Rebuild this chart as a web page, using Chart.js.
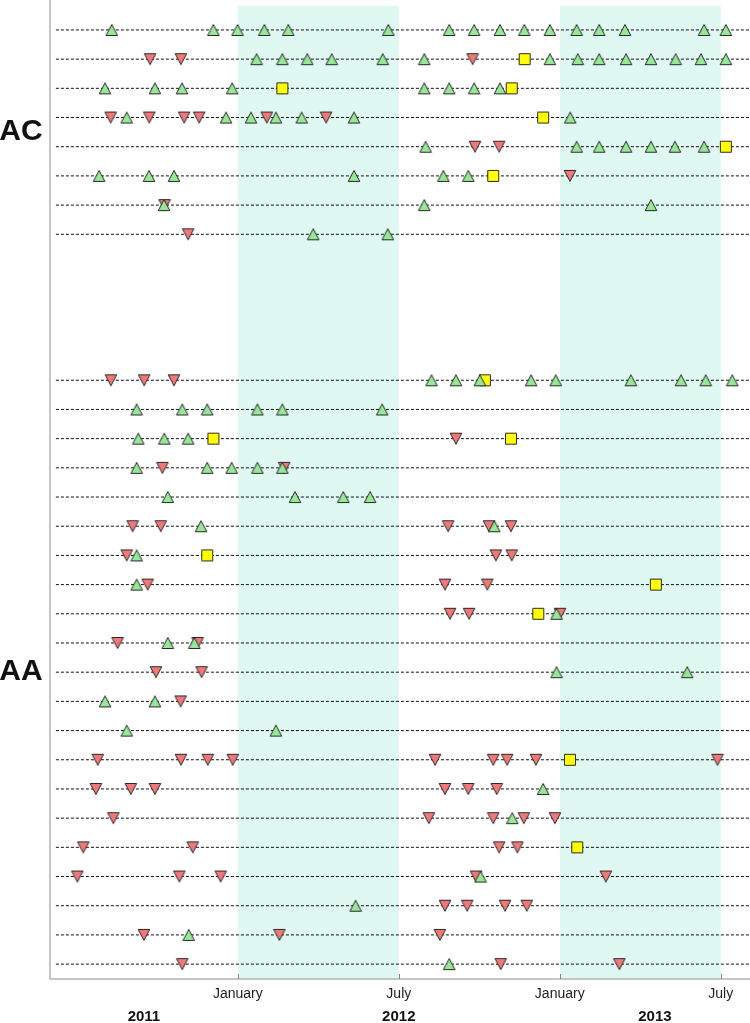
<!DOCTYPE html>
<html>
<head>
<meta charset="utf-8">
<script src="https://cdn.jsdelivr.net/npm/chart.js@4.4.1/dist/chart.umd.min.js"></script>
<style>
  body { margin: 0; background: #fff; }
</style>
</head>
<body>
<canvas id="chart" width="750" height="1023"></canvas>
<script>
// x values are months counted from January 2011 (12 = Jan 2012, 24 = Jan 2013)
const groups = ['AC', 'AA'];
const tickMonths = [12, 18, 24, 30];
const tickLabels = ['January', 'July', 'January', 'July'];
const years = [2011, 2012, 2013];
const shadedPeriods = [[12, 18], [24, 30]];

// one list per row: green up triangles, red down triangles, yellow squares
const acUp = [
  [7.30, 11.09, 11.99, 12.99, 13.88, 17.61, 19.88, 20.81, 21.77, 22.68, 23.63, 24.63, 25.47, 26.43, 29.38, 30.19],
  [12.70, 13.66, 14.59, 15.50, 17.40, 18.95, 23.63, 24.67, 25.47, 26.47, 27.40, 28.32, 29.26, 30.19],
  [7.05, 8.91, 9.92, 11.79, 18.95, 19.88, 20.81, 21.77],
  [7.86, 11.56, 12.49, 13.42, 14.38, 16.33, 24.39],
  [19.00, 24.63, 25.47, 26.47, 27.40, 28.29, 29.38],
  [6.83, 8.69, 9.62, 16.33, 19.66, 20.59],
  [9.25, 18.95, 27.40],
  [14.81, 17.59]
];
const acDown = [
  [],
  [8.73, 9.88, 20.75],
  [],
  [7.26, 8.70, 10.00, 10.56, 13.08, 15.29],
  [20.84, 21.74],
  [24.38],
  [9.27],
  [10.15]
];
const acFlag = [
  [],
  [22.69],
  [13.66, 22.21],
  [23.38],
  [30.19],
  [21.52],
  [],
  []
];

const aaUp = [
  [19.22, 20.13, 21.02, 22.93, 23.85, 26.65, 28.52, 29.44, 30.43],
  [8.23, 9.93, 10.86, 12.73, 13.66, 17.38],
  [8.29, 9.26, 10.15],
  [8.23, 10.86, 11.77, 12.73, 13.66],
  [9.39, 14.13, 15.93, 16.93],
  [10.63, 21.56],
  [8.23],
  [8.23],
  [23.88],
  [9.39, 10.38],
  [23.88, 28.75],
  [7.05, 8.91],
  [7.86, 13.42],
  [],
  [23.38],
  [22.23],
  [],
  [21.05],
  [16.39],
  [10.17],
  [19.88]
];
const aaDown = [
  [7.27, 8.51, 9.62],
  [],
  [20.13],
  [9.19, 13.73],
  [],
  [8.08, 9.13, 19.84, 21.36, 22.18],
  [7.86, 21.62, 22.21],
  [8.64, 19.72, 21.30],
  [19.91, 20.62, 24.01],
  [7.52, 10.50],
  [8.95, 10.65],
  [9.87],
  [],
  [6.78, 9.88, 10.88, 11.81, 19.35, 21.52, 22.04, 23.11, 29.88],
  [6.71, 8.01, 8.91, 19.72, 20.59, 21.65],
  [7.36, 19.12, 21.52, 22.66, 23.82],
  [6.24, 10.32, 21.74, 22.42],
  [6.02, 9.82, 11.36, 20.88, 25.72],
  [19.72, 20.55, 21.96, 22.77],
  [8.50, 13.55, 19.53],
  [9.93, 21.80, 26.22]
];
const aaFlag = [
  [21.21], [], [11.09, 22.18], [], [], [], [10.86], [27.58], [23.20], [], [],
  [], [], [24.38], [], [], [24.65], [], [], [], []
];

const aaStart = acUp.length + 4;   // empty rows between the two groups
const lastRow = aaStart + aaUp.length - 1;
const FONT = "'Liberation Sans', Arial, sans-serif";

function points(acRows, aaRows) {
  const pts = [];
  acRows.forEach((list, i) => list.forEach(m => pts.push({x: m, y: i})));
  aaRows.forEach((list, i) => list.forEach(m => pts.push({x: m, y: aaStart + i})));
  return pts;
}

function marker(kind) {
  const c = document.createElement('canvas');
  c.width = 14; c.height = 14;
  const g = c.getContext('2d');
  g.lineWidth = 1;
  g.strokeStyle = '#2a2a2a';
  g.beginPath();
  if (kind === 'up') {
    g.moveTo(7, 1.5); g.lineTo(12.8, 12.5); g.lineTo(1.2, 12.5);
    g.fillStyle = '#96e796';
  } else if (kind === 'down') {
    g.moveTo(1.2, 1.5); g.lineTo(12.8, 1.5); g.lineTo(7, 12.5);
    g.fillStyle = '#f07878';
  } else {
    g.rect(1.5, 1.5, 11, 11);
    g.fillStyle = '#ffff00';
  }
  g.closePath();
  g.fill();
  g.stroke();
  return c;
}

// dashed guide line for every used row
const rowLines = [];
for (let r = 0; r <= lastRow; r++) {
  if (r >= acUp.length && r < aaStart) continue;
  rowLines.push({
    type: 'line',
    data: [{x: 5.22, y: r}, {x: 31.09, y: r}],
    borderColor: '#111',
    borderWidth: 1,
    borderDash: [3, 2],
    pointRadius: 0,
    order: 10
  });
}

const decor = {
  id: 'decor',
  beforeDatasetsDraw(chart) {
    const {ctx, chartArea: a, scales: {x}} = chart;
    ctx.save();
    ctx.fillStyle = '#e0f8f2';
    shadedPeriods.forEach(([s, e]) => {
      const x0 = x.getPixelForValue(s), x1 = x.getPixelForValue(e);
      ctx.fillRect(x0, a.top, x1 - x0, a.bottom - a.top);
    });
    // axes
    ctx.strokeStyle = '#b4b4b4';
    ctx.lineWidth = 1.5;
    ctx.beginPath();
    ctx.moveTo(a.left, 0);
    ctx.lineTo(a.left, a.bottom);
    ctx.lineTo(a.right, a.bottom);
    ctx.stroke();
    ctx.lineWidth = 1;
    ctx.strokeStyle = '#888';
    tickMonths.forEach(m => {
      const px = Math.round(x.getPixelForValue(m)) + 0.5;
      ctx.beginPath();
      ctx.moveTo(px, a.bottom);
      ctx.lineTo(px, a.bottom - 5);
      ctx.stroke();
    });
    ctx.restore();
  },
  afterDraw(chart) {
    const {ctx, scales: {x, y}} = chart;
    ctx.save();
    ctx.fillStyle = '#111';
    ctx.textAlign = 'center';
    ctx.textBaseline = 'middle';
    ctx.font = 'bold 15px ' + FONT;
    years.forEach(yr => {
      const s = Math.max(x.min, (yr - 2011) * 12);
      const e = Math.min(x.max, (yr - 2010) * 12);
      ctx.fillText(String(yr), (x.getPixelForValue(s) + x.getPixelForValue(e)) / 2, 1017);
    });
    ctx.font = 'bold 30px ' + FONT;
    ctx.fillText(groups[0], 21, y.getPixelForValue((acUp.length - 1) / 2));
    ctx.fillText(groups[1], 21, y.getPixelForValue((aaStart + lastRow) / 2));
    ctx.restore();
  }
};

new Chart(document.getElementById('chart').getContext('2d'), {
  type: 'scatter',
  data: {
    datasets: [
      { label: 'up', data: points(acUp, aaUp), pointStyle: marker('up'), order: 0 },
      { label: 'down', data: points(acDown, aaDown), pointStyle: marker('down'), order: 1 },
      { label: 'flag', data: points(acFlag, aaFlag), pointStyle: marker('flag'), order: 2 }
    ].concat(rowLines)
  },
  options: {
    responsive: false,
    animation: false,
    layout: { autoPadding: false, padding: { left: 50, right: 0, top: 6, bottom: 0 } },
    plugins: { legend: { display: false }, tooltip: { enabled: false } },
    scales: {
      x: {
        type: 'linear',
        min: 5,
        max: 31.09,
        afterBuildTicks: s => { s.ticks = tickMonths.map(v => ({value: v})); },
        afterFit: s => { s.height = 44; },
        ticks: {
          callback: (v, i) => tickLabels[i],
          font: { size: 14, family: FONT },
          color: '#222',
          padding: 7,
          maxRotation: 0,
          autoSkip: false
        },
        grid: { display: false, drawTicks: false },
        border: { display: false }
      },
      y: {
        type: 'linear',
        reverse: true,
        min: -0.82,
        max: 32.51,
        display: false
      }
    }
  },
  plugins: [decor]
});
</script>
</body>
</html>
